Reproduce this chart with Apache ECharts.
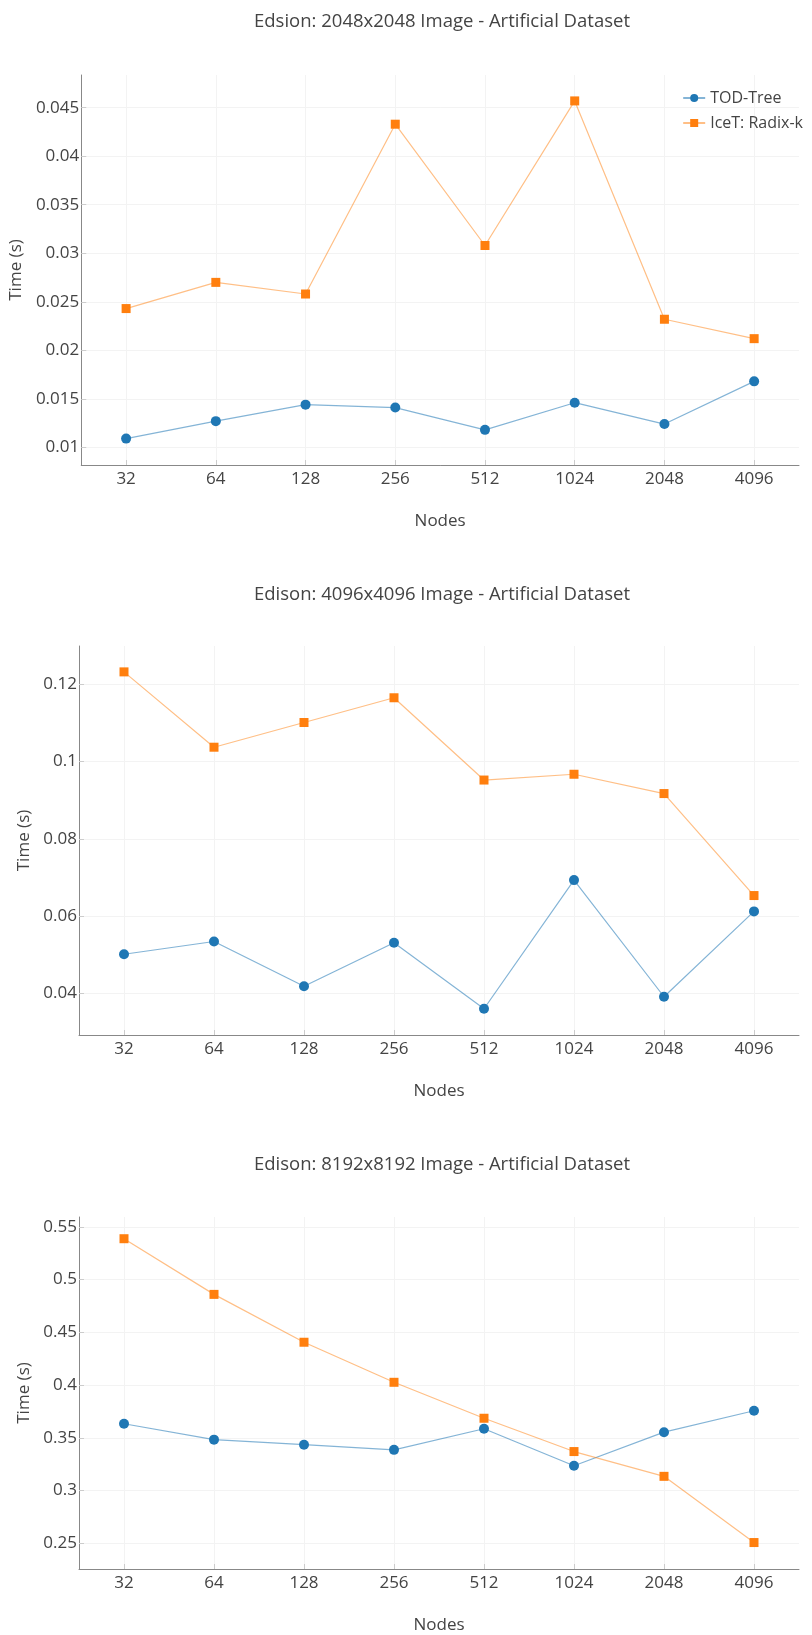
<!DOCTYPE html>
<html>
<head>
<meta charset="utf-8">
<script src="https://cdn.jsdelivr.net/npm/echarts@6/dist/echarts.min.js"></script>
<style>
  html, body { margin: 0; padding: 0; background: #fff; }
  #chart { width: 812px; height: 1635px; }
</style>
</head>
<body>
<div id="chart"></div>
<script>
// ---- data ----
const categories = ['32', '64', '128', '256', '512', '1024', '2048', '4096'];

const titles = [
  'Edsion: 2048x2048 Image - Artificial Dataset',
  'Edison: 4096x4096 Image - Artificial Dataset',
  'Edison: 8192x8192 Image - Artificial Dataset'
];

const todTree2048 = [0.0109, 0.0127, 0.0144, 0.0141, 0.0118, 0.0146, 0.0124, 0.0168];
const iceT2048    = [0.0243, 0.0270, 0.0258, 0.0433, 0.0308, 0.0457, 0.0232, 0.0212];

const todTree4096 = [0.0501, 0.0534, 0.0418, 0.0531, 0.0360, 0.0693, 0.0391, 0.0612];
const iceT4096    = [0.1232, 0.1037, 0.1101, 0.1165, 0.0952, 0.0967, 0.0917, 0.0653];

const todTree8192 = [0.3633, 0.3482, 0.3434, 0.3385, 0.3585, 0.3234, 0.3553, 0.3756];
const iceT8192    = [0.5388, 0.4860, 0.4406, 0.4026, 0.3685, 0.3369, 0.3134, 0.2506];

const yTicks2048 = [0.01, 0.015, 0.02, 0.025, 0.03, 0.035, 0.04, 0.045];
const yTicks4096 = [0.04, 0.06, 0.08, 0.1, 0.12];
const yTicks8192 = [0.25, 0.3, 0.35, 0.4, 0.45, 0.5, 0.55];

const seriesNames = ['TOD-Tree', 'IceT: Radix-k'];

// ---- styling / layout ----
const FONT = 'Open Sans';
const TXT = '#444';
const BLUE = '#1f77b4';
const ORANGE = '#ff7f0e';

const panels = [
  { top: 75,   height: 390, yMin: 0.00818, yMax: 0.04837, ticks: yTicks2048, nameGap: 41, titleY: 22,
    tod: todTree2048, ice: iceT2048 },
  { top: 646,  height: 389, yMin: 0.0292,  yMax: 0.1299,  ticks: yTicks4096, nameGap: 33, titleY: 595,
    tod: todTree4096, ice: iceT4096 },
  { top: 1217, height: 355, yMin: 0.2255,  yMax: 0.5594,  ticks: yTicks8192, nameGap: 33, titleY: 1165,
    tod: todTree8192, ice: iceT8192 }
];

const option = {
  backgroundColor: '#fff',
  animation: false,
  textStyle: { fontFamily: FONT },
  graphic: panels.map((p, i) => ({
    type: 'text',
    x: 442,
    y: p.titleY,
    silent: true,
    style: {
      text: titles[i],
      font: '18.5px "Open Sans"',
      fill: TXT,
      textAlign: 'center',
      textVerticalAlign: 'middle'
    }
  })),
  legend: {
    data: seriesNames,
    orient: 'vertical',
    right: 4,
    top: 85,
    itemWidth: 22,
    itemHeight: 10,
    itemGap: 9,
    textStyle: { fontFamily: FONT, fontSize: 16, color: TXT }
  },
  grid: panels.map(p => ({ left: 79, right: 13, top: p.top, height: p.height, containLabel: false })),
  xAxis: panels.map((p, i) => ({
    type: 'category',
    gridIndex: i,
    data: categories,
    boundaryGap: true,
    name: 'Nodes',
    nameLocation: 'middle',
    nameGap: 48,
    nameTextStyle: { fontFamily: FONT, fontSize: 17, color: TXT },
    axisLine: { lineStyle: { color: '#888', width: 1 } },
    axisTick: { show: true, inside: true, alignWithLabel: true, length: 5, lineStyle: { color: '#ccc' } },
    axisLabel: { margin: 6, fontFamily: FONT, fontSize: 17, color: TXT },
    splitLine: { show: true, alignWithLabel: true, lineStyle: { color: '#f3f3f3', width: 1 } }
  })),
  yAxis: panels.map((p, i) => ({
    type: 'value',
    gridIndex: i,
    min: p.yMin,
    max: p.yMax,
    name: 'Time (s)',
    nameLocation: 'middle',
    nameGap: p.nameGap,
    nameTextStyle: { fontFamily: FONT, fontSize: 17, color: TXT },
    axisLine: { show: true, lineStyle: { color: '#888', width: 1 } },
    axisTick: { show: true, inside: true, length: 5, customValues: p.ticks, lineStyle: { color: '#ccc' } },
    axisLabel: { margin: 2, customValues: p.ticks, fontFamily: FONT, fontSize: 17, color: TXT,
                 formatter: v => String(+v.toFixed(4)) },
    splitLine: { show: true, lineStyle: { color: '#f3f3f3', width: 1 } }
  })),
  series: panels.flatMap((p, i) => [
    {
      name: seriesNames[0], type: 'line', xAxisIndex: i, yAxisIndex: i,
      data: p.tod, symbol: 'circle', symbolSize: 10,
      itemStyle: { color: BLUE },
      lineStyle: { color: BLUE, width: 1.2, opacity: 0.55 }
    },
    {
      name: seriesNames[1], type: 'line', xAxisIndex: i, yAxisIndex: i,
      data: p.ice, symbol: 'rect', symbolSize: 9,
      itemStyle: { color: ORANGE },
      lineStyle: { color: ORANGE, width: 1.2, opacity: 0.5 }
    }
  ])
};

const chart = echarts.init(document.getElementById('chart'), null, { renderer: 'canvas' });
chart.setOption(option);
</script>
</body>
</html>
